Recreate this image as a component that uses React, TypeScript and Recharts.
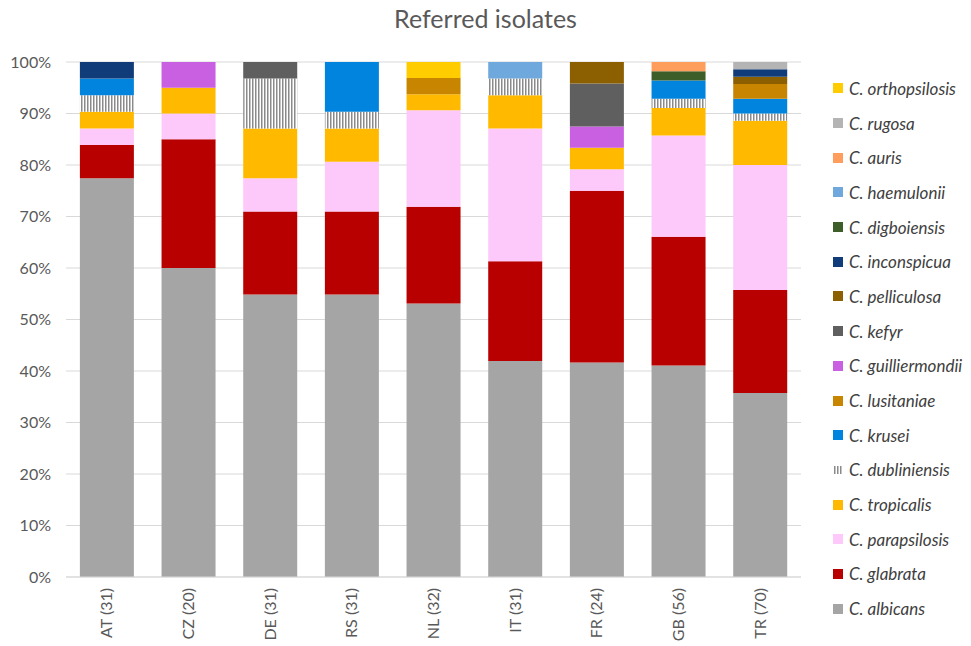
import { BarChart, Bar, XAxis, YAxis, CartesianGrid } from "recharts";

const countries = ["AT (31)", "CZ (20)", "DE (31)", "RS (31)", "NL (32)", "IT (31)", "FR (24)", "GB (56)", "TR (70)"];

// isolate counts per country, stacked bottom -> top
const albicans = [24, 12, 17, 17, 17, 13, 10, 23, 25];
const glabrata = [2, 5, 5, 5, 6, 6, 8, 14, 14];
const parapsilosis = [1, 1, 2, 3, 6, 8, 1, 11, 17];
const tropicalis = [1, 1, 3, 2, 1, 2, 1, 3, 6];
const dubliniensis = [1, 0, 3, 1, 0, 1, 0, 1, 1];
const krusei = [1, 0, 0, 3, 0, 0, 0, 2, 2];
const lusitaniae = [0, 0, 0, 0, 1, 0, 0, 0, 2];
const guilliermondii = [0, 1, 0, 0, 0, 0, 1, 0, 0];
const kefyr = [0, 0, 1, 0, 0, 0, 2, 0, 0];
const pelliculosa = [0, 0, 0, 0, 0, 0, 1, 0, 1];
const inconspicua = [1, 0, 0, 0, 0, 0, 0, 0, 1];
const digboiensis = [0, 0, 0, 0, 0, 0, 0, 1, 0];
const haemulonii = [0, 0, 0, 0, 0, 1, 0, 0, 0];
const auris = [0, 0, 0, 0, 0, 0, 0, 1, 0];
const rugosa = [0, 0, 0, 0, 0, 0, 0, 0, 1];
const orthopsilosis = [0, 0, 0, 0, 1, 0, 0, 0, 0];

const yTicks = [0, 0.1, 0.2, 0.3, 0.4, 0.5, 0.6, 0.7, 0.8, 0.9, 1];

const species = [
  { key: "albicans", name: "C. albicans", values: albicans, color: "#A5A5A5" },
  { key: "glabrata", name: "C. glabrata", values: glabrata, color: "#B80000" },
  { key: "parapsilosis", name: "C. parapsilosis", values: parapsilosis, color: "#FDC8FA" },
  { key: "tropicalis", name: "C. tropicalis", values: tropicalis, color: "#FFBA00" },
  { key: "dubliniensis", name: "C. dubliniensis", values: dubliniensis, color: "url(#dub-stripes)" },
  { key: "krusei", name: "C. krusei", values: krusei, color: "#0084DE" },
  { key: "lusitaniae", name: "C. lusitaniae", values: lusitaniae, color: "#C88600" },
  { key: "guilliermondii", name: "C. guilliermondii", values: guilliermondii, color: "#C960E1" },
  { key: "kefyr", name: "C. kefyr", values: kefyr, color: "#5F5F5F" },
  { key: "pelliculosa", name: "C. pelliculosa", values: pelliculosa, color: "#8C5F00" },
  { key: "inconspicua", name: "C. inconspicua", values: inconspicua, color: "#103C7A" },
  { key: "digboiensis", name: "C. digboiensis", values: digboiensis, color: "#3D5E28" },
  { key: "haemulonii", name: "C. haemulonii", values: haemulonii, color: "#6FA8DC" },
  { key: "auris", name: "C. auris", values: auris, color: "#FF9E5C" },
  { key: "rugosa", name: "C. rugosa", values: rugosa, color: "#B4B4B4" },
  { key: "orthopsilosis", name: "C. orthopsilosis", values: orthopsilosis, color: "#FFCC00" },
];

const data = countries.map((country, i) => {
  const row: Record<string, string | number> = { country };
  species.forEach((s) => (row[s.key] = s.values[i]));
  return row;
});

const FONT = "Lato, 'Open Sans', sans-serif";

function CountryTick({ x, y, payload }: any) {
  return (
    <g transform={`translate(${x},${y})`}>
      <text transform="rotate(-90)" x={-3} dy="0.35em" textAnchor="end" fill="#595959" fontSize={16} fontFamily={FONT}>
        {payload.value}
      </text>
    </g>
  );
}

function StripeIcon() {
  return (
    <svg width={10} height={10} style={{ display: "block" }}>
      <rect x={1} y={1} width={1.5} height={8} fill="#8a8a8a" />
      <rect x={4} y={1} width={1.5} height={8} fill="#8a8a8a" />
      <rect x={7} y={1} width={1.5} height={8} fill="#8a8a8a" />
    </svg>
  );
}

export default function App() {
  return (
    <div style={{ position: "absolute", left: 0, top: 0, width: 971, height: 646, background: "#fff", fontFamily: FONT }}>
      <div style={{ position: "absolute", left: 0, top: 0 }}>
        <BarChart width={971} height={646} data={data} stackOffset="expand" barCategoryGap="17%"
          margin={{ top: 62, right: 170, left: 10, bottom: 0 }}>
          <defs>
            <pattern id="dub-stripes" width={3} height={4} patternUnits="userSpaceOnUse">
              <rect width={3} height={4} fill="#ffffff" />
              <rect width={1.5} height={4} fill="#8a8a8a" />
            </pattern>
          </defs>
          <CartesianGrid stroke="#D9D9D9" vertical={false} />
          <XAxis dataKey="country" height={69} interval={0} tickLine={false}
            axisLine={{ stroke: "#D9D9D9" }} tick={<CountryTick />} />
          <YAxis width={56} domain={[0, 1]} ticks={yTicks} tickLine={false} axisLine={false} tickMargin={9}
            tickFormatter={(v: number) => `${Math.round(v * 100)}%`}
            tick={{ fontSize: 16, fill: "#595959", fontFamily: FONT }} />
          {species.map((s) => (
            <Bar key={s.key} dataKey={s.key} name={s.name} stackId="a" fill={s.color} isAnimationActive={false} />
          ))}
        </BarChart>
      </div>
      <div style={{ position: "absolute", left: 0, top: 3, width: 971, textAlign: "center", fontSize: 25, color: "#595959" }}>
        Referred isolates
      </div>
      <div style={{ position: "absolute", left: 833, top: 71 }}>
        {[...species].reverse().map((s) => (
          <div key={s.key} style={{ height: 34.7, display: "flex", alignItems: "center", fontStyle: "italic", fontSize: 17, color: "#404040" }}>
            <span style={{ width: 10, height: 10, marginRight: 6, display: "block", flex: "none", background: s.key === "dubliniensis" ? "transparent" : s.color }}>
              {s.key === "dubliniensis" ? <StripeIcon /> : null}
            </span>
            <span>{s.name}</span>
          </div>
        ))}
      </div>
    </div>
  );
}
